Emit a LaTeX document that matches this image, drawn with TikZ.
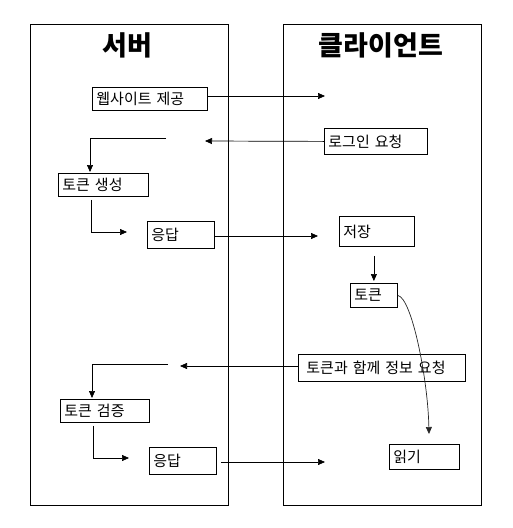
\documentclass[tikz,border=0pt]{standalone}
\usepackage{fontspec}
\newfontfamily\kr{Noto Sans CJK KR}
\usetikzlibrary{arrows.meta}
\newcommand{\boxfont}{\kr\fontsize{15}{17}\selectfont\spaceskip=0.4em\relax}
\begin{document}
\begin{tikzpicture}[x=1pt,y=-1pt,
  lane/.style={draw,line width=0.8pt,anchor=north west,inner sep=0pt},
  box/.style={draw,line width=0.8pt,anchor=north west,inner xsep=4pt,inner ysep=0pt,align=left,font=\boxfont},
  title/.style={font=\kr\bfseries\fontsize{27}{30}\selectfont,inner sep=0pt},
  arr/.style={line width=0.7pt,-{Triangle[length=7pt,width=6pt]}}]
\useasboundingbox (0,0) rectangle (513,528);
% lanes
\node[lane,minimum width=198pt,minimum height=481pt] (server) at (30,24) {};
\node[lane,minimum width=198pt,minimum height=481pt] (client) at (283,24) {};
\node[title] (tserver) at (127,45) {서버};
\node[title] (tclient) at (381,45) {클라이언트};
% boxes
\node[box,text width=107pt,minimum height=23pt] (web) at (92,87) {웹사이트 제공};
\node[box,text width=95pt,minimum height=26pt] (login) at (324,128) {로그인 요청};
\node[box,text width=82pt,minimum height=23pt] (gen) at (58,173) {토큰 생성};
\node[box,text width=59pt,minimum height=27pt] (resp1) at (147,221) {응답};
\node[box,text width=67pt,minimum height=30pt] (store) at (339,216) {저장};
\node[box,text width=39pt,minimum height=24pt] (token) at (350,283) {토큰};
\node[box,inner xsep=8pt,text width=151pt,minimum height=27pt] (req) at (298,354) {토큰과 함께 정보 요청};
\node[box,text width=81pt,minimum height=23pt] (verify) at (60,399) {토큰 검증};
\node[box,text width=59pt,minimum height=27pt] (resp2) at (149,447) {응답};
\node[box,text width=62pt,minimum height=25pt] (read) at (389,444) {읽기};
% free ends
\coordinate (c1) at (325,96);
\coordinate (c2) at (205,141);
\coordinate (c3) at (166,138);
\coordinate (c4) at (127,232);
\coordinate (c5) at (318,236);
\coordinate (c6) at (429,434);
\coordinate (c7) at (180,366);
\coordinate (c8) at (168,364);
\coordinate (c9) at (129,458);
\coordinate (c10) at (325,462);
% connectors
\draw[arr] (web.east |- c1) -- (c1);
\draw[arr] (login.west) -- (c2);
\draw[arr] (c3) -| ([xshift=32pt,yshift=1pt]gen.north west);
\draw[arr] ([xshift=33pt,yshift=-3pt]gen.south west) |- (c4);
\draw[arr] (resp1.east |- c5) -- (c5);
\draw[arr] ([yshift=-9pt]token.north |- store.south) -- ([yshift=2pt]token.north);
\draw[arr,line width=0.7pt,draw=black!85] (token.east) .. controls (412,298) and (428,380) .. (c6);
\draw[arr] (req.west |- c7) -- (c7);
\draw[arr] (c8) -| ([xshift=32pt,yshift=1pt]verify.north west);
\draw[arr] ([xshift=33pt,yshift=-3pt]verify.south west) |- (c9);
\draw[arr] ([xshift=4pt]resp2.east |- c10) -- (c10);
\end{tikzpicture}
\end{document}
